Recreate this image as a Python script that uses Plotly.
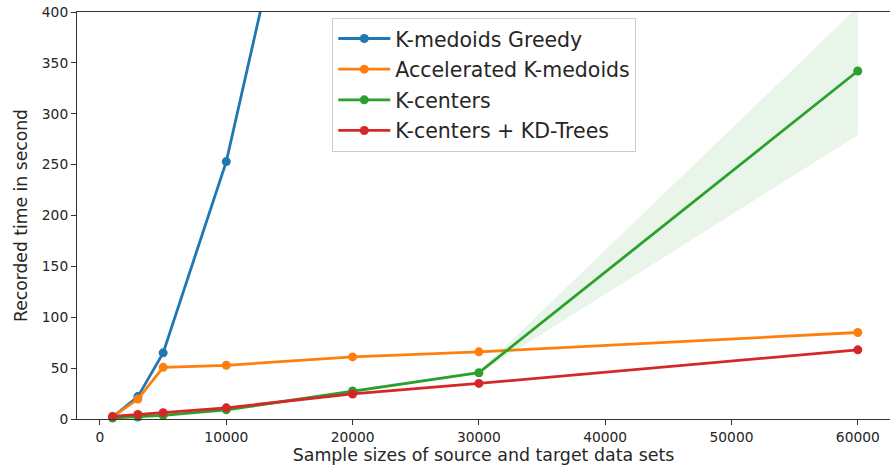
import plotly.graph_objects as go

# Sample sizes (x) and recorded run times in seconds for each method
sizes = [1000, 3000, 5000, 10000, 20000, 30000, 60000]

greedy_sizes = [1000, 3000, 5000, 10000, 20000]
greedy_time = [2, 22, 65, 253, 800]

accel_time = [2, 19.6, 50.8, 52.8, 61, 66, 85]
kcenters_time = [1, 2, 3.5, 9, 27.5, 45.5, 342]
kcenters_lower = [0.8, 1.6, 3.0, 8.0, 26.5, 44.5, 279]
kcenters_upper = [1.2, 2.4, 4.0, 10.0, 28.5, 46.5, 405]
kdtree_time = [2.5, 4.5, 6.2, 11, 24.6, 35, 68]

x_ticks = [0, 10000, 20000, 30000, 40000, 50000, 60000]
y_ticks = [0, 50, 100, 150, 200, 250, 300, 350, 400]

BLUE = "#1f77b4"
ORANGE = "#ff7f0e"
GREEN = "#2ca02c"
RED = "#d62728"
TEXT = "#262626"
FONT = "DejaVu Sans"

line_w = 2.8
marker_size = 9

fig = go.Figure()


def add_series(x, y, name, color, group):
    fig.add_trace(go.Scatter(
        x=x, y=y, name=name, mode="lines+markers",
        line=dict(color=color, width=line_w),
        marker=dict(color=color, size=marker_size),
        legendgroup=group, cliponaxis=False,
    ))


add_series(greedy_sizes, greedy_time, "K-medoids Greedy", BLUE, "g1")
add_series(sizes, accel_time, "Accelerated K-medoids", ORANGE, "g2")

# shaded spread around the K-centers timings
fig.add_trace(go.Scatter(
    x=sizes, y=kcenters_lower, mode="lines", line=dict(width=0, color=GREEN),
    showlegend=False, hoverinfo="skip", legendgroup="band",
))
fig.add_trace(go.Scatter(
    x=sizes, y=kcenters_upper, mode="lines", line=dict(width=0, color=GREEN),
    fill="tonexty", fillcolor="rgba(44,160,44,0.1)",
    showlegend=False, hoverinfo="skip", legendgroup="band",
))

add_series(sizes, kcenters_time, "K-centers", GREEN, "g3")
add_series(sizes, kdtree_time, "K-centers + KD-Trees", RED, "g4")

axis_common = dict(
    showgrid=False, zeroline=False,
    showline=True, linecolor="#333333", linewidth=1.1,
    ticks="outside", ticklen=5, tickwidth=1.1, tickcolor="#333333",
    tickfont=dict(family=FONT, size=13.8, color=TEXT),
)

fig.update_layout(
    width=890, height=471,
    margin=dict(l=77, r=0, t=12, b=52),
    paper_bgcolor="white", plot_bgcolor="white",
    font=dict(family=FONT, color=TEXT),
    xaxis=dict(
        range=[-1820, 62550], tickvals=x_ticks,
        ticktext=[str(v) for v in x_ticks],
        mirror=True,
        title=dict(text="Sample sizes of source and target data sets",
                   font=dict(family=FONT, size=17.4, color=TEXT), standoff=5),
        **axis_common,
    ),
    yaxis=dict(
        range=[0, 400], tickvals=y_ticks,
        title=dict(text="Recorded time in second",
                   font=dict(family=FONT, size=17.2, color=TEXT), standoff=9),
        **axis_common,
    ),
    legend=dict(
        x=0.314, y=0.986, xanchor="left", yanchor="top",
        bgcolor="rgba(255,255,255,0.8)", bordercolor="#cccccc", borderwidth=1,
        font=dict(family=FONT, size=20.5, color=TEXT),
        tracegroupgap=1, itemwidth=52,
    ),
    showlegend=True,
)

fig.write_html("out.html")
